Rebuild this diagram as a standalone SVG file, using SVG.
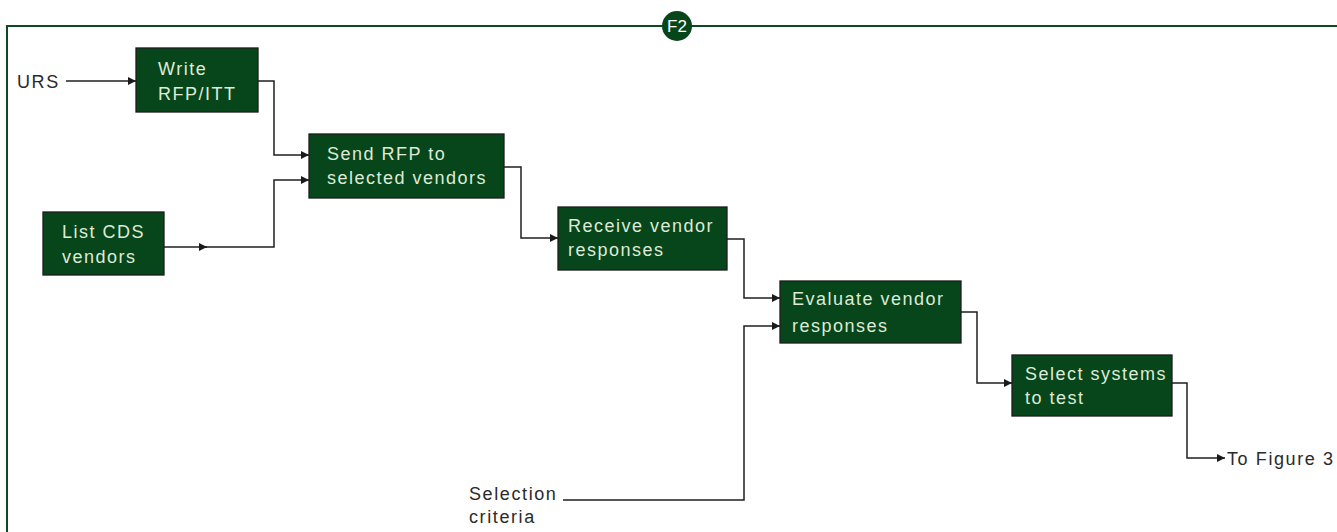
<svg xmlns="http://www.w3.org/2000/svg" width="1337" height="532" viewBox="0 0 1337 532">
  <defs>
    <marker id="arrow" viewBox="0 0 10 10" refX="10" refY="5" markerWidth="12" markerHeight="8" markerUnits="userSpaceOnUse" orient="auto">
      <path d="M0,0 L10,5 L0,10 Z" fill="#1a1a1a"/>
    </marker>
  </defs>
  <style>
    .frame { fill: none; stroke: #0d4a22; stroke-width: 2; }
    .box { fill: #06461a; stroke: #1c1c1c; stroke-width: 1.3; }
    .boxtext { font-family: "Liberation Sans", Arial, sans-serif; font-size: 18px; letter-spacing: 1.5px; fill: #dfead8; }
    .label { font-family: "Liberation Sans", Arial, sans-serif; font-size: 18px; letter-spacing: 1.6px; fill: #2a2a2a; }
    .conn { fill: none; stroke: #1f1f1f; stroke-width: 1.5; }
    .badge { fill: #06461a; }
    .badgetext { font-family: "Liberation Sans", Arial, sans-serif; font-size: 17px; fill: #ffffff; }
  </style>

  <rect width="1337" height="532" fill="#ffffff"/>

  <!-- outer frame: top and left rules -->
  <path class="frame" d="M7,532 V26 H1337"/>

  <!-- figure tag -->
  <g id="badge">
    <circle class="badge" cx="677" cy="26" r="15"/>
    <text class="badgetext" x="677" y="32" text-anchor="middle">F2</text>
  </g>

  <!-- connectors -->
  <g id="connectors">
    <path class="conn" d="M66,81 H136" marker-end="url(#arrow)"/>
    <path class="conn" d="M258,81 H274 V155 H309" marker-end="url(#arrow)"/>
    <path class="conn" d="M164,247 H207" marker-end="url(#arrow)"/>
    <path class="conn" d="M204,247 H274 V180 H309" marker-end="url(#arrow)"/>
    <path class="conn" d="M504,167 H521 V238 H558" marker-end="url(#arrow)"/>
    <path class="conn" d="M727,239 H744 V298 H780" marker-end="url(#arrow)"/>
    <path class="conn" d="M563,500 H744 V326 H780" marker-end="url(#arrow)"/>
    <path class="conn" d="M961,312 H977 V383 H1012" marker-end="url(#arrow)"/>
    <path class="conn" d="M1172,383 H1187 V458 H1225" marker-end="url(#arrow)"/>
  </g>

  <!-- free labels -->
  <g id="urs">
    <text class="label" x="17" y="88">URS</text>
  </g>
  <g id="selection-criteria">
    <text class="label" x="469" y="500">Selection</text>
    <text class="label" x="469" y="523">criteria</text>
  </g>
  <g id="to-figure-3">
    <text class="label" x="1227" y="465">To Figure 3</text>
  </g>

  <!-- process steps -->
  <g id="write-rfp">
    <rect class="box" x="136" y="48" width="122" height="64"/>
    <text class="boxtext" x="158" y="75">Write</text>
    <text class="boxtext" x="158" y="100">RFP/ITT</text>
  </g>

  <g id="list-cds-vendors">
    <rect class="box" x="43" y="212" width="121" height="63"/>
    <text class="boxtext" x="62" y="238">List CDS</text>
    <text class="boxtext" x="62" y="263">vendors</text>
  </g>

  <g id="send-rfp">
    <rect class="box" x="309" y="134" width="195" height="64"/>
    <text class="boxtext" x="327" y="160">Send RFP to</text>
    <text class="boxtext" x="327" y="184">selected vendors</text>
  </g>

  <g id="receive-responses">
    <rect class="box" x="558" y="207" width="169" height="63"/>
    <text class="boxtext" x="568" y="232">Receive vendor</text>
    <text class="boxtext" x="568" y="256">responses</text>
  </g>

  <g id="evaluate-responses">
    <rect class="box" x="780" y="281" width="181" height="62"/>
    <text class="boxtext" x="792" y="305">Evaluate vendor</text>
    <text class="boxtext" x="792" y="332">responses</text>
  </g>

  <g id="select-systems">
    <rect class="box" x="1012" y="355" width="160" height="61"/>
    <text class="boxtext" x="1025" y="380">Select systems</text>
    <text class="boxtext" x="1025" y="404">to test</text>
  </g>
</svg>
